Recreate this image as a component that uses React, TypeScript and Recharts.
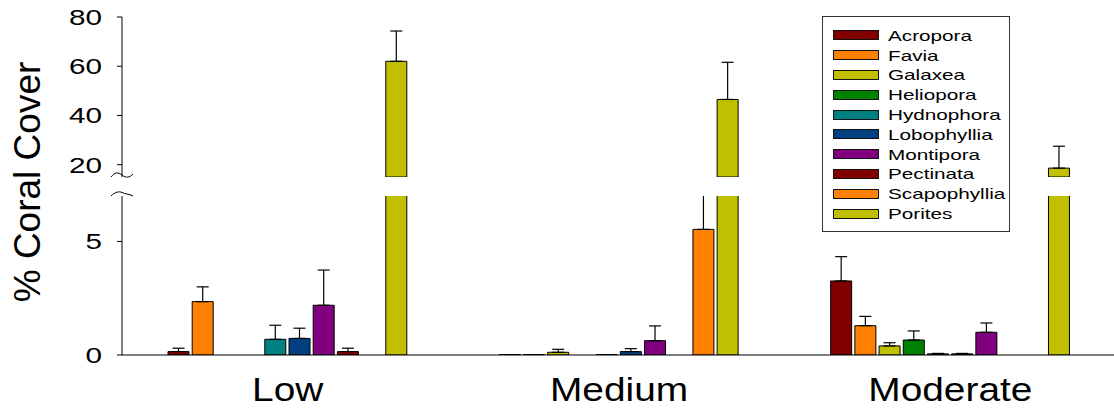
import { Bar, BarChart, ErrorBar, Legend, XAxis, YAxis } from "recharts";

const SITES = ["Low", "Medium", "Moderate"];
const GENERA = [
  "Acropora",
  "Favia",
  "Galaxea",
  "Heliopora",
  "Hydnophora",
  "Lobophyllia",
  "Montipora",
  "Pectinata",
  "Scapophyllia",
  "Porites",
];
const COLORS = [
  "#800000",
  "#ff8000",
  "#c0c000",
  "#008000",
  "#008080",
  "#004080",
  "#800080",
  "#800000",
  "#ff8000",
  "#c0c000",
];

// mean % cover per genus, one list per site
const LOW_MEAN = [0.15, 2.35, 0, 0, 0.69, 0.73, 2.19, 0.15, 0, 62.0];
const MEDIUM_MEAN = [0.02, 0.02, 0.12, 0, 0.02, 0.15, 0.63, 0, 5.53, 46.5];
const MODERATE_MEAN = [3.26, 1.29, 0.4, 0.66, 0.05, 0.05, 1.0, 0, 0, 18.6];

// standard error (upper whisker only)
const LOW_SE = [0.15, 0.65, 0, 0, 0.62, 0.45, 1.55, 0.15, 0, 12.3];
const MEDIUM_SE = [0, 0, 0.13, 0, 0, 0.13, 0.65, 0, 4.0, 15.1];
const MODERATE_SE = [1.07, 0.41, 0.14, 0.4, 0.02, 0.02, 0.41, 0, 0, 8.9];

const UPPER_TICKS = [20, 40, 60, 80];
const LOWER_TICKS = [0, 5];
const UPPER_DOMAIN = [15, 80];
const LOWER_DOMAIN = [0, 7];

const MEANS = [LOW_MEAN, MEDIUM_MEAN, MODERATE_MEAN];
const SES = [LOW_SE, MEDIUM_SE, MODERATE_SE];

const FONT = "'Liberation Sans', Arial, sans-serif";

function buildRows(keep: (v: number) => boolean, keepErr: (v: number) => boolean) {
  return SITES.map((site, i) => {
    const row: Record<string, any> = { site };
    GENERA.forEach((g, j) => {
      const v = MEANS[i][j];
      const e = SES[i][j];
      row[g] = keep(v) ? v : null;
      row[g + "_se"] = keep(v) && keepErr(v) && e > 0 ? [0, e] : null;
    });
    return row;
  });
}

const upperRows = buildRows(
  (v) => v > UPPER_DOMAIN[0],
  () => true
);
const lowerRows = buildRows(
  (v) => v > 0,
  (v) => v < LOWER_DOMAIN[1]
);

const W = 1116;

const YTick = ({ x, y, payload }: any) => (
  <g transform={`translate(${x},${y})`}>
    <text
      transform="scale(1.35,1)"
      textAnchor="end"
      dy="0.36em"
      fontSize={22}
      fontFamily={FONT}
      fill="#000"
    >
      {payload.value}
    </text>
  </g>
);

const XTick = ({ x, y, payload }: any) => (
  <g transform={`translate(${x},${y})`}>
    <text
      transform="scale(1.16,1)"
      textAnchor="middle"
      y={46}
      fontSize={33.5}
      fontFamily={FONT}
      fill="#000"
    >
      {payload.value}
    </text>
  </g>
);

const LegendBox = ({ payload }: any) => {
  // keep the plotting order, not alphabetical
  const items = [...(payload || [])].sort(
    (a: any, b: any) => GENERA.indexOf(a.value) - GENERA.indexOf(b.value)
  );
  return (
    <div
      style={{
        width: 188,
        height: 216,
        boxSizing: "border-box",
        border: "1.5px solid #333",
        background: "#fff",
        paddingTop: 8.5,
        paddingLeft: 10,
        fontFamily: FONT,
      }}
    >
      {items.map((p: any) => (
        <div
          key={p.value}
          style={{ display: "flex", alignItems: "center", height: 19.8 }}
        >
          <span
            style={{
              display: "inline-block",
              width: 44,
              height: 8,
              background: p.color,
              border: "1px solid #111",
            }}
          />
          <span
            style={{
              marginLeft: 9,
              fontSize: 15,
              lineHeight: "15px",
              color: "#000",
              display: "inline-block",
              transform: "scaleX(1.38)",
              transformOrigin: "left center",
              whiteSpace: "nowrap",
            }}
          >
            {p.value}
          </span>
        </div>
      ))}
    </div>
  );
};

function Bars() {
  return GENERA.map((g, j) => (
    <Bar
      key={g}
      dataKey={g}
      name={g}
      fill={COLORS[j]}
      stroke="#000"
      strokeWidth={1}
      isAnimationActive={false}
    >
      <ErrorBar
        dataKey={g + "_se"}
        width={6}
        stroke="#000"
        strokeWidth={1.2}
        direction="y"
        isAnimationActive={false}
      />
    </Bar>
  ));
}

export default function App() {
  return (
    <div
      style={{
        position: "relative",
        width: 1114,
        height: 409,
        overflow: "hidden",
        background: "#fff",
        fontFamily: FONT,
      }}
    >
      <style>{`body{margin:0}`}</style>

      {/* upper panel: 15–80 */}
      <div style={{ position: "absolute", left: 0, top: 0, zIndex: 2 }}>
        <BarChart
          width={W}
          height={180}
          data={upperRows}
          margin={{ top: 17, right: 0, bottom: 3, left: 0 }}
          barSize={21}
          barGap={3.2}
        >
          <XAxis dataKey="site" hide />
          <YAxis
            width={122}
            type="number"
            domain={UPPER_DOMAIN}
            ticks={UPPER_TICKS}
            allowDataOverflow
            stroke="#000"
            tickSize={5}
            tickMargin={15}
            tick={<YTick />}
          />
          {Bars()}
          <Legend
            layout="vertical"
            align="center"
            verticalAlign="middle"
            content={<LegendBox />}
            wrapperStyle={{ left: 822, top: 16, width: 188, zIndex: 5 }}
          />
        </BarChart>
      </div>

      {/* lower panel: 0–7 */}
      <div style={{ position: "absolute", left: 0, top: 196, zIndex: 1 }}>
        <BarChart
          width={W}
          height={213}
          data={lowerRows}
          margin={{ top: 0, right: 0, bottom: 0, left: 0 }}
          barSize={21}
          barGap={3.2}
        >
          <XAxis
            dataKey="site"
            height={54}
            stroke="#000"
            tickLine={false}
            tickSize={0}
            tickMargin={0}
            tick={<XTick />}
          />
          <YAxis
            width={122}
            type="number"
            domain={LOWER_DOMAIN}
            ticks={LOWER_TICKS}
            allowDataOverflow
            stroke="#000"
            tickSize={5}
            tickMargin={15}
            tick={<YTick />}
          />
          {Bars()}
        </BarChart>
      </div>

      {/* axis break marks */}
      <svg
        width={1114}
        height={409}
        style={{ position: "absolute", left: 0, top: 0, zIndex: 3, pointerEvents: "none" }}
      >
        <path
          d="M111,177 C115,172 118,172 122,175 S129,178 133,174"
          fill="none"
          stroke="#000"
          strokeWidth={1}
        />
        <path
          d="M111,196 C115,192 119,191 122,192.5 S129,194 133,196"
          fill="none"
          stroke="#000"
          strokeWidth={1}
        />
      </svg>

      <div
        style={{
          position: "absolute",
          left: 27,
          top: 182,
          transform: "translate(-50%, -50%) rotate(-90deg)",
          fontSize: 37,
          whiteSpace: "nowrap",
          color: "#000",
          lineHeight: 1,
        }}
      >
        % Coral Cover
      </div>
    </div>
  );
}
